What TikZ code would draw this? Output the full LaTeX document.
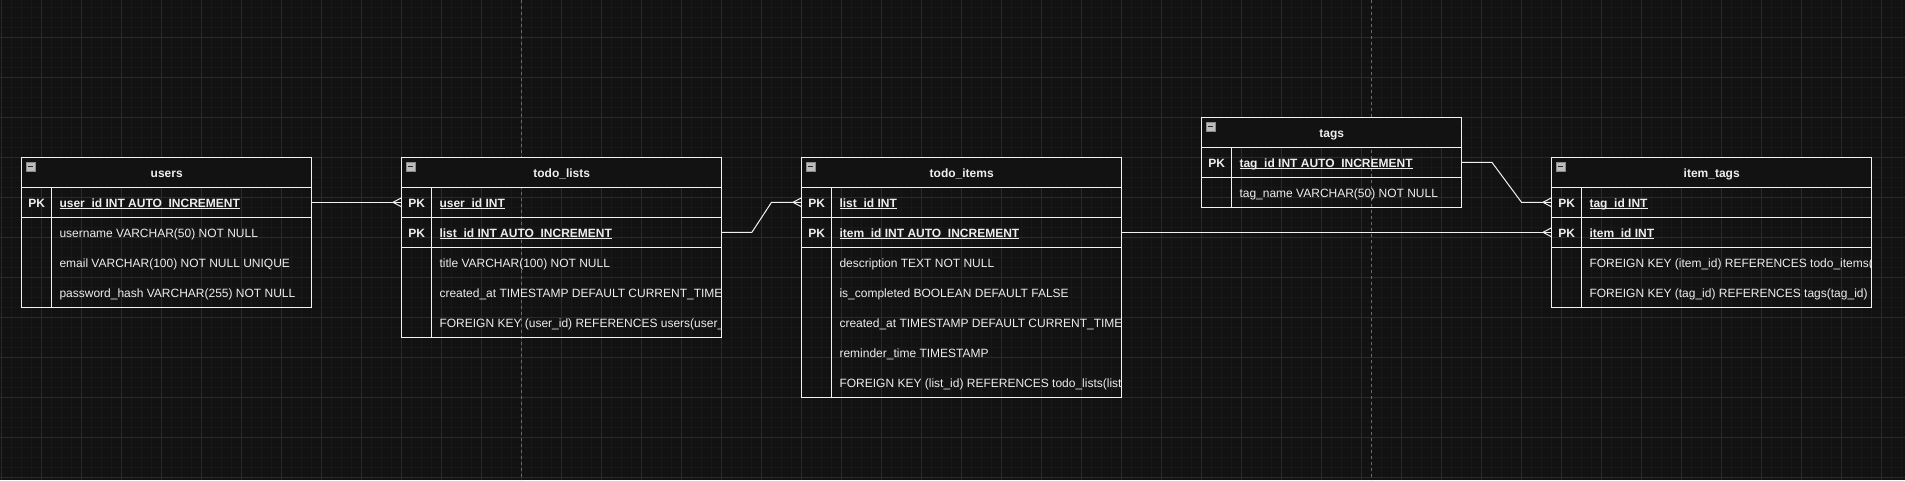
\documentclass[tikz,border=0pt]{standalone}
\usepackage{fontspec}
\setmainfont{Liberation Sans}
\definecolor{bgc}{HTML}{121212}
\definecolor{minorc}{HTML}{181818}
\definecolor{majorc}{HTML}{2A2A2A}
\definecolor{pagec}{HTML}{6A6A6A}
\definecolor{linec}{HTML}{F2F2F2}
\definecolor{txtc}{HTML}{EEEEEE}
\definecolor{iconfill}{HTML}{BDBDBD}
\definecolor{iconedge}{HTML}{8A8A8A}
\newcommand\pkline[1]{\setbox0\hbox{#1}\rlap{\rule[-2pt]{\wd0}{0.9pt}}\box0}
\tikzset{
  tline/.style={draw=linec, line width=1pt},
  conn/.style={draw=linec, line width=1pt},
  hdrtext/.style={font=\fontsize{12}{14}\selectfont\bfseries, text=txtc, inner sep=0pt, anchor=base},
  pktext/.style={font=\fontsize{12}{14}\selectfont\bfseries, text=txtc, inner sep=0pt, anchor=base},
  fldtext/.style={font=\fontsize{12}{14}\selectfont, text=txtc, inner sep=0pt, anchor=base west},
  pkfld/.style={font=\fontsize{12}{14}\selectfont\bfseries, text=txtc, inner sep=0pt, anchor=base west},
  rowbox/.style={minimum height=30pt, inner sep=0pt, draw=none},
  tableicon/.style={draw=iconedge, fill=iconfill, line width=0.6pt},
  minorgrid/.style={draw=minorc, line width=0.6pt},
  majorgrid/.style={draw=majorc, line width=0.8pt},
  pageline/.style={draw=pagec, line width=0.8pt, dash pattern=on 3pt off 3pt}
}
\newcommand\crowfoot[1]{%
  \draw[conn] ([xshift=-8.5pt]#1) -- ([yshift=4.5pt]#1);
  \draw[conn] ([xshift=-8.5pt]#1) -- ([yshift=-4.5pt]#1);
}
\newcommand\ticon[2]{%
  \draw[tableicon] (#1+4.5,#2+4.5) rectangle (#1+13.5,#2+13.5);
  \draw[draw=black!85, line width=1.3pt] (#1+6.5,#2+9) -- (#1+11.5,#2+9);
}
\begin{document}
\begin{tikzpicture}[x=1pt,y=-1pt]
\useasboundingbox (0,0) rectangle (1905,480);
\fill[bgc] (0,0) rectangle (1905,480);
% grid
\foreach \i in {0,...,190} \draw[minorgrid] (1.7+10*\i,0) -- (1.7+10*\i,480);
\foreach \i in {0,...,47} \draw[minorgrid] (0,7.3+10*\i) -- (1905,7.3+10*\i);
\foreach \i in {0,...,47} \draw[majorgrid] (1.7+40*\i,0) -- (1.7+40*\i,480);
\foreach \i in {0,...,11} \draw[majorgrid] (0,37.3+40*\i) -- (1905,37.3+40*\i);
\draw[pageline] (521.7,0) -- (521.7,480);
\draw[pageline] (1371.7,0) -- (1371.7,480);

% ================= users =================
\fill[bgc] (21.7,157.3) rectangle (311.7,187.3);
\draw[tline] (21.7,157.3) rectangle (311.7,307.3);
\draw[tline] (21.7,187.3) -- (311.7,187.3);
\draw[tline] (21.7,217.3) -- (311.7,217.3);
\draw[tline] (51.7,187.3) -- (51.7,307.3);
\ticon{21.7}{157.3}
\node[hdrtext] (users) at (166.7,177.1) {users};
\node[rowbox, minimum width=290pt] (users-r1) at (166.7,202.3) {};
\node[rowbox, minimum width=290pt] (users-r2) at (166.7,232.3) {};
\node[rowbox, minimum width=290pt] (users-r3) at (166.7,262.3) {};
\node[rowbox, minimum width=290pt] (users-r4) at (166.7,292.3) {};
\node[pktext] (users-pk1) at (36.7,207.1) {PK};
\begin{scope}
\clip (21.7,157.3) rectangle (311.7,307.3);
\node[pkfld] (users-f1) at (59.3,207.1) {\pkline{user\_id INT AUTO\_INCREMENT}};
\node[fldtext] (users-f2) at (59.3,237.1) {username VARCHAR(50) NOT NULL};
\node[fldtext] (users-f3) at (59.3,267.1) {email VARCHAR(100) NOT NULL UNIQUE};
\node[fldtext] (users-f4) at (59.3,297.1) {password\_hash VARCHAR(255) NOT NULL};
\end{scope}

% ================= todo_lists =================
\fill[bgc] (401.7,157.3) rectangle (721.7,187.3);
\draw[tline] (401.7,157.3) rectangle (721.7,337.3);
\draw[tline] (401.7,187.3) -- (721.7,187.3);
\draw[tline] (401.7,217.3) -- (721.7,217.3);
\draw[tline] (401.7,247.3) -- (721.7,247.3);
\draw[tline] (431.7,187.3) -- (431.7,337.3);
\ticon{401.7}{157.3}
\node[hdrtext] (lists) at (561.7,177.1) {todo\_lists};
\node[rowbox, minimum width=320pt] (lists-r1) at (561.7,202.3) {};
\node[rowbox, minimum width=320pt] (lists-r2) at (561.7,232.3) {};
\node[pktext] (lists-pk1) at (416.7,207.1) {PK};
\node[pktext] (lists-pk2) at (416.7,237.1) {PK};
\begin{scope}
\clip (401.7,157.3) rectangle (721.7,337.3);
\node[pkfld] (lists-f1) at (439.3,207.1) {\pkline{user\_id INT}};
\node[pkfld] (lists-f2) at (439.3,237.1) {\pkline{list\_id INT AUTO\_INCREMENT}};
\node[fldtext] (lists-f3) at (439.3,267.1) {title VARCHAR(100) NOT NULL};
\node[fldtext] (lists-f4) at (439.3,297.1) {created\_at TIMESTAMP DEFAULT CURRENT\_TIMESTAMP};
\node[fldtext] (lists-f5) at (439.3,327.1) {FOREIGN KEY (user\_id) REFERENCES users(user\_id)};
\end{scope}

% ================= todo_items =================
\fill[bgc] (801.7,157.3) rectangle (1121.7,187.3);
\draw[tline] (801.7,157.3) rectangle (1121.7,397.3);
\draw[tline] (801.7,187.3) -- (1121.7,187.3);
\draw[tline] (801.7,217.3) -- (1121.7,217.3);
\draw[tline] (801.7,247.3) -- (1121.7,247.3);
\draw[tline] (831.7,187.3) -- (831.7,397.3);
\ticon{801.7}{157.3}
\node[hdrtext] (items) at (961.7,177.1) {todo\_items};
\node[rowbox, minimum width=320pt] (items-r1) at (961.7,202.3) {};
\node[rowbox, minimum width=320pt] (items-r2) at (961.7,232.3) {};
\node[pktext] (items-pk1) at (816.7,207.1) {PK};
\node[pktext] (items-pk2) at (816.7,237.1) {PK};
\begin{scope}
\clip (801.7,157.3) rectangle (1121.7,397.3);
\node[pkfld] (items-f1) at (839.3,207.1) {\pkline{list\_id INT}};
\node[pkfld] (items-f2) at (839.3,237.1) {\pkline{item\_id INT AUTO\_INCREMENT}};
\node[fldtext] (items-f3) at (839.3,267.1) {description TEXT NOT NULL};
\node[fldtext] (items-f4) at (839.3,297.1) {is\_completed BOOLEAN DEFAULT FALSE};
\node[fldtext] (items-f5) at (839.3,327.1) {created\_at TIMESTAMP DEFAULT CURRENT\_TIMESTAMP};
\node[fldtext] (items-f6) at (839.3,357.1) {reminder\_time TIMESTAMP};
\node[fldtext] (items-f7) at (839.3,387.1) {FOREIGN KEY (list\_id) REFERENCES todo\_lists(list\_id)};
\end{scope}

% ================= tags =================
\fill[bgc] (1201.7,117.3) rectangle (1461.7,147.3);
\draw[tline] (1201.7,117.3) rectangle (1461.7,207.3);
\draw[tline] (1201.7,147.3) -- (1461.7,147.3);
\draw[tline] (1201.7,177.3) -- (1461.7,177.3);
\draw[tline] (1231.7,147.3) -- (1231.7,207.3);
\ticon{1201.7}{117.3}
\node[hdrtext] (tags) at (1331.7,137.1) {tags};
\node[rowbox, minimum width=260pt] (tags-r1) at (1331.7,162.3) {};
\node[pktext] (tags-pk1) at (1216.7,167.1) {PK};
\begin{scope}
\clip (1201.7,117.3) rectangle (1461.7,207.3);
\node[pkfld] (tags-f1) at (1239.3,167.1) {\pkline{tag\_id INT AUTO\_INCREMENT}};
\node[fldtext] (tags-f2) at (1239.3,197.1) {tag\_name VARCHAR(50) NOT NULL};
\end{scope}

% ================= item_tags =================
\fill[bgc] (1551.7,157.3) rectangle (1871.7,187.3);
\draw[tline] (1551.7,157.3) rectangle (1871.7,307.3);
\draw[tline] (1551.7,187.3) -- (1871.7,187.3);
\draw[tline] (1551.7,217.3) -- (1871.7,217.3);
\draw[tline] (1551.7,247.3) -- (1871.7,247.3);
\draw[tline] (1581.7,187.3) -- (1581.7,307.3);
\ticon{1551.7}{157.3}
\node[hdrtext] (itags) at (1711.7,177.1) {item\_tags};
\node[rowbox, minimum width=320pt] (itags-r1) at (1711.7,202.3) {};
\node[rowbox, minimum width=320pt] (itags-r2) at (1711.7,232.3) {};
\node[pktext] (itags-pk1) at (1566.7,207.1) {PK};
\node[pktext] (itags-pk2) at (1566.7,237.1) {PK};
\begin{scope}
\clip (1551.7,157.3) rectangle (1871.7,307.3);
\node[pkfld] (itags-f1) at (1589.3,207.1) {\pkline{tag\_id INT}};
\node[pkfld] (itags-f2) at (1589.3,237.1) {\pkline{item\_id INT}};
\node[fldtext] (itags-f3) at (1589.3,267.1) {FOREIGN KEY (item\_id) REFERENCES todo\_items(item\_id)};
\node[fldtext] (itags-f4) at (1589.3,297.1) {FOREIGN KEY (tag\_id) REFERENCES tags(tag\_id)};
\end{scope}

% ================= connectors =================
\draw[conn] (users-r1.east) -- (lists-r1.west);
\crowfoot{lists-r1.west}
\draw[conn] (lists-r2.east) -- ++(30,0) -- ([xshift=-30pt]items-r1.west) -- (items-r1.west);
\crowfoot{items-r1.west}
\draw[conn] (items-r2.east) -- (itags-r2.west);
\crowfoot{itags-r2.west}
\draw[conn] (tags-r1.east) -- ++(30,0) -- ([xshift=-30pt]itags-r1.west) -- (itags-r1.west);
\crowfoot{itags-r1.west}
\end{tikzpicture}
\end{document}
